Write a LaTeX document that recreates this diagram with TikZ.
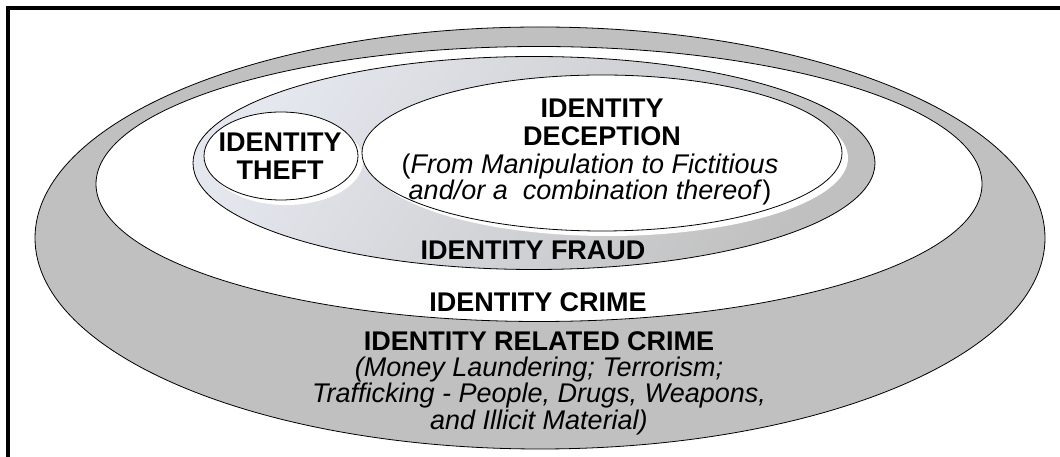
\documentclass[tikz,border=0pt]{standalone}
\usepackage{fontspec}
\setmainfont{Liberation Sans}
\usetikzlibrary{shapes.geometric}

\definecolor{ringgrey}{RGB}{192,192,192}
\definecolor{fraudlight}{RGB}{228,231,238}

\begin{document}
\begin{tikzpicture}[x=1pt, y=1pt,
		ring/.style={ellipse, draw, line width=0.8pt, inner sep=0pt},
		halo/.style={ellipse, fill=white, inner sep=0pt},
		title/.style={font=\fontsize{27}{28}\selectfont\bfseries, align=center},
		note/.style={font=\fontsize{27}{24}\selectfont\itshape, align=center}]
		\useasboundingbox (0,0) rectangle (1060,457);

		\node [ring, fill=ringgrey, minimum width=1010, minimum height=422] (related) at (540,219) {};
		\node [ring, fill=white, minimum width=886, minimum height=275] (crime) at (539,273) {};
		\node [ring, top color=fraudlight, bottom color=ringgrey, shading angle=55,
			minimum width=682, minimum height=213] (fraud) at (534,294) {};

		\node [halo, minimum width=154, minimum height=88] (theftshadow) at (286,296) {};
		\node [halo, minimum width=480, minimum height=156] (deceptionshadow) at (608,299) {};
		\node [ring, fill=white, minimum width=154, minimum height=88] (theft) at (281,301) {};
		\node [ring, fill=white, minimum width=480, minimum height=156] (deception) at (602,304) {};

		\node [title] (theftlbl) at (280,301) {IDENTITY\\THEFT};
		\node [title] (deceptionlbl) at (602,335) {IDENTITY\\DECEPTION};
		\node [note, font=\fontsize{27}{26}\selectfont] (deceptionnote) at (590,277)
			{(\textit{From Manipulation to Fictitious}\\\textit{and/or a\ \ combination thereof})};

		\node [title] (fraudlbl) at (533,207) {IDENTITY FRAUD};
		\node [title] (crimelbl) at (538,155) {IDENTITY CRIME};
		\node [title] (relatedlbl) at (539,116) {IDENTITY RELATED CRIME};
		\node [note] (relatednote) at (539,61) {(Money Laundering; Terrorism;\\Trafficking - People, Drugs, Weapons,\\and Illicit Material)};

		\draw [line width=4pt] (8,0) -- (8,449) -- (1060,449);
	\end{tikzpicture}
\end{document}
